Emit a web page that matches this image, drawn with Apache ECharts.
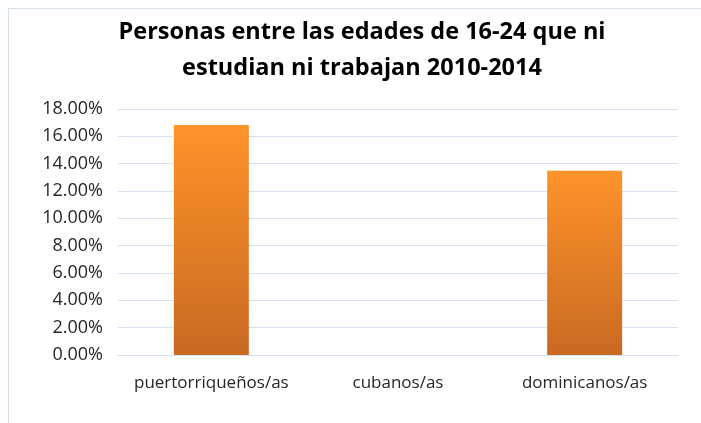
<!DOCTYPE html>
<html lang="es">
<head>
    <meta charset="UTF-8">
    <title>Personas 16-24</title>
    <script src="https://cdn.jsdelivr.net/npm/echarts@6/dist/echarts.min.js"></script>
    <style>
        body { margin: 0; background: #fff; }
        #chart { width: 701px; height: 423px; }
    </style>
</head>
<body>
<div id="chart"></div>
<script type="text/javascript">
    var categories = ['puertorriqueños/as', 'cubanos/as', 'dominicanos/as'];
    var values = [0.1683, 0, 0.1348];

    var myChart = echarts.init(document.getElementById('chart'));

    var option = {
        animation: false,
        title: {
            text: 'Personas entre las edades de 16-24 que ni\nestudian ni trabajan 2010-2014',
            left: 357,
            textAlign: 'center',
            top: 9,
            textStyle: {
                fontFamily: 'Open Sans',
                fontWeight: 'bold',
                fontSize: 23.5,
                lineHeight: 36,
                color: '#000'
            }
        },
        graphic: [{
            type: 'rect',
            shape: { x: 8.5, y: 8.5, width: 720, height: 440 },
            style: { fill: null, stroke: '#d6dfec', lineWidth: 1 },
            silent: true
        }],
        grid: {
            left: 118,
            right: 23,
            top: 109,
            bottom: 68,
            containLabel: false
        },
        xAxis: {
            type: 'category',
            data: categories,
            axisLine: { lineStyle: { color: '#d5e1f2', width: 1 } },
            axisTick: { show: false },
            axisLabel: {
                interval: 0,
                fontFamily: 'Open Sans',
                fontSize: 17,
                color: '#262626',
                margin: 20
            }
        },
        yAxis: {
            type: 'value',
            min: 0,
            max: 0.18,
            interval: 0.02,
            axisLine: { show: false },
            axisTick: { show: false },
            splitLine: { lineStyle: { color: '#d5e1f2', width: 1 } },
            axisLabel: {
                fontFamily: 'Open Sans',
                fontSize: 18,
                color: '#262626',
                margin: 15,
                formatter: function (v) { return (v * 100).toFixed(2) + '%'; }
            }
        },
        series: [{
            type: 'bar',
            data: values,
            barWidth: 75,
            itemStyle: {
                color: new echarts.graphic.LinearGradient(0, 0, 0, 1, [
                    { offset: 0, color: '#fe932a' },
                    { offset: 1, color: '#c96922' }
                ])
            }
        }]
    };

    myChart.setOption(option);
</script>
</body>
</html>
